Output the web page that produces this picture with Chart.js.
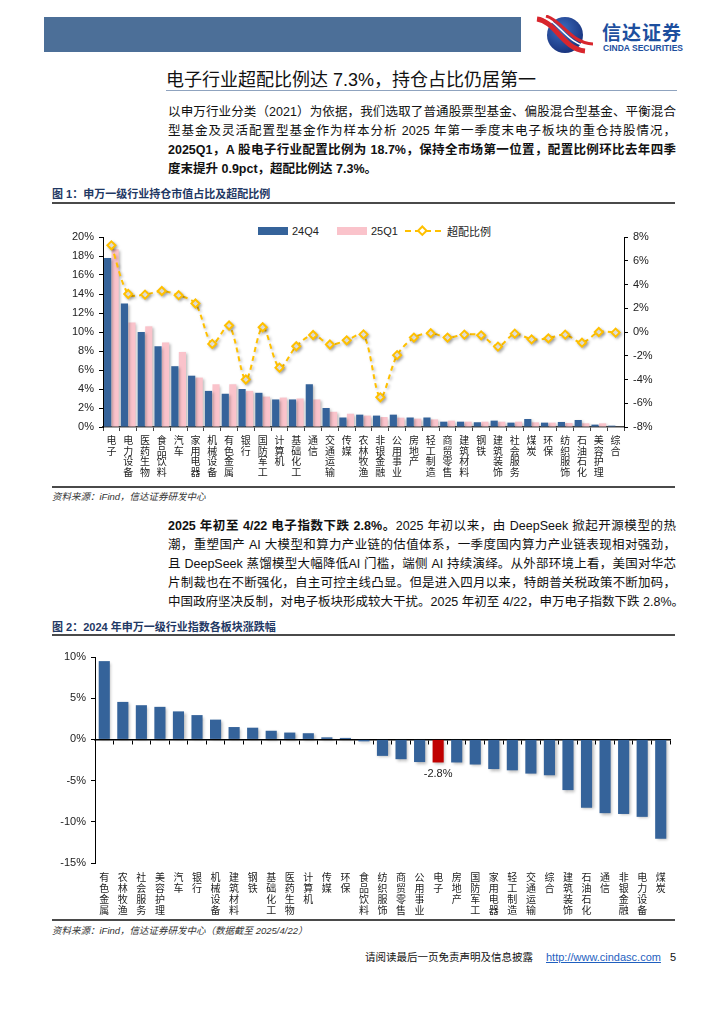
<!DOCTYPE html>
<html>
<head>
<meta charset="utf-8">
<script src="https://cdn.jsdelivr.net/npm/chart.js@4.4.1/dist/chart.umd.min.js"></script>
<style>
body { margin: 0; background: #fff; }
#page { position: relative; width: 724px; height: 1024px; overflow: hidden;
        font-family: "Liberation Sans", "Noto Sans CJK SC", sans-serif; color: #111; }
.abs { position: absolute; white-space: nowrap; }
.line { position: absolute; left: 168px; width: 508px; font-size: 12.5px; line-height: 16px;
        text-align: justify; text-align-last: justify; white-space: nowrap; }
.rule { position: absolute; left: 52px; width: 623px; height: 2px; background: #4a4a4a; }
.cap { font-size: 11px; font-weight: bold; color: #1f3864; line-height: 14px; }
.src { font-size: 9.5px; font-style: italic; color: #333; line-height: 12px; }
.lg { font-size: 11px; line-height: 12px; color: #222; }
</style>
</head>
<body>
<div id="page">
  <!-- header -->
  <div class="abs" style="left:44px;top:17px;width:477px;height:35px;background:#4c6f98;"></div>
  <svg class="abs" style="left:533px;top:15px" width="64" height="40" viewBox="0 0 64 40">
    <defs>
      <radialGradient id="g" cx="0.4" cy="0.35" r="0.7">
        <stop offset="0" stop-color="#3d6ec0"/><stop offset="1" stop-color="#16307a"/>
      </radialGradient>
    </defs>
    <circle cx="32" cy="20" r="18" fill="url(#g)"/>
    <path d="M4 4 C 22 6, 30 34, 52 36" stroke="#d8262d" stroke-width="5" fill="none"/>
    <path d="M10 2 C 26 6, 34 30, 58 32" stroke="#fff" stroke-width="1.5" fill="none"/>
    <path d="M13 1 C 29 5, 37 28, 60 29" stroke="#d8262d" stroke-width="3" fill="none"/>
  </svg>
  <div class="abs" style="left:602px;top:21px;font-size:19px;font-weight:bold;color:#1d4f9e;letter-spacing:1px;font-family:'Noto Sans CJK SC';line-height:22px;">信达证券</div>
  <div class="abs" style="left:603px;top:43px;font-size:8.5px;font-weight:bold;color:#1d4f9e;line-height:10px;">CINDA SECURITIES</div>

  <!-- title -->
  <div class="abs" style="left:166px;top:69px;font-size:18px;line-height:22px;color:#111;">电子行业超配比例达 7.3%，持仓占比仍居第一</div>
  <div class="abs" style="left:166px;top:90px;width:511px;height:1px;background:#8fa3bf;"></div>

  <!-- paragraph 1 -->
  <div class="line" style="top:104px;">以申万行业分类（2021）为依据，我们选取了普通股票型基金、偏股混合型基金、平衡混合</div>
  <div class="line" style="top:123px;">型基金及灵活配置型基金作为样本分析 2025 年第一季度末电子板块的重仓持股情况，</div>
  <div class="line" style="top:142px;font-weight:bold;">2025Q1，A 股电子行业配置比例为 18.7%，保持全市场第一位置，配置比例环比去年四季</div>
  <div class="line" style="top:161px;font-weight:bold;text-align-last:left;">度末提升 0.9pct，超配比例达 7.3%。</div>

  <!-- figure 1 -->
  <div class="abs cap" style="left:52px;top:187px;">图 1：申万一级行业持仓市值占比及超配比例</div>
  <div class="rule" style="top:202px;"></div>

  <div class="abs" style="left:258px;top:227px;width:30px;height:8px;background:#35639a;"></div>
  <div class="abs lg" style="left:292px;top:225px;">24Q4</div>
  <div class="abs" style="left:337px;top:227px;width:30px;height:8px;background:#fac3cb;"></div>
  <div class="abs lg" style="left:371px;top:225px;">25Q1</div>
  <svg class="abs" style="left:404px;top:225px" width="40" height="12">
    <line x1="1" y1="6" x2="39" y2="6" stroke="#FFC000" stroke-width="2" stroke-dasharray="6,4"/>
    <rect x="16" y="2" width="6" height="6" transform="rotate(45 19 5) translate(0 1)" fill="#fff" stroke="#FFC000" stroke-width="2"/>
  </svg>
  <div class="abs lg" style="left:447px;top:225px;font-family:'Noto Sans CJK SC';">超配比例</div>

  <div class="abs" style="left:52px;top:215px;width:623px;height:270px;"><canvas id="c1"></canvas></div>
  <div class="rule" style="top:486px;"></div>
  <div class="abs src" style="left:52px;top:491px;">资料来源：iFind，信达证券研发中心</div>

  <!-- paragraph 2 -->
  <div class="line" style="top:518px;"><b>2025 年初至 4/22 电子指数下跌 2.8%。</b>2025 年初以来，由 DeepSeek 掀起开源模型的热</div>
  <div class="line" style="top:537px;">潮，重塑国产 AI 大模型和算力产业链的估值体系，一季度国内算力产业链表现相对强劲，</div>
  <div class="line" style="top:556px;">且 DeepSeek 蒸馏模型大幅降低AI 门槛，端侧 AI 持续演绎。从外部环境上看，美国对华芯</div>
  <div class="line" style="top:575px;">片制裁也在不断强化，自主可控主线凸显。但是进入四月以来，特朗普关税政策不断加码，</div>
  <div class="line" style="top:594px;">中国政府坚决反制，对电子板块形成较大干扰。2025 年初至 4/22，申万电子指数下跌 2.8%。</div>

  <!-- figure 2 -->
  <div class="abs cap" style="left:52px;top:620px;">图 2：2024 年申万一级行业指数各板块涨跌幅</div>
  <div class="rule" style="top:634px;"></div>
  <div class="abs" style="left:52px;top:640px;width:623px;height:278px;"><canvas id="c2"></canvas></div>
  <div class="rule" style="top:919px;"></div>
  <div class="abs src" style="left:52px;top:925px;">资料来源：iFind，信达证券研发中心（数据截至 2025/4/22）</div>

  <!-- footer -->
  <div class="abs" style="left:365px;top:950px;font-size:10.5px;line-height:14px;font-family:'Noto Sans CJK SC';">请阅读最后一页免责声明及信息披露</div>
  <div class="abs" style="left:546px;top:950px;font-size:11px;line-height:14px;color:#1f5fbf;text-decoration:underline;">http://www.cindasc.com</div>
  <div class="abs" style="left:670px;top:950px;font-size:11px;line-height:14px;">5</div>
</div>

<script>
// figure 1: holdings share by SW level-1 industry
const industries1 = ['电子', '电力设备', '医药生物', '食品饮料', '汽车', '家用电器', '机械设备', '有色金属',
    '银行', '国防军工', '计算机', '基础化工', '通信', '交通运输', '传媒', '农林牧渔', '非银金融', '公用事业',
    '房地产', '轻工制造', '商贸零售', '建筑材料', '钢铁', '建筑装饰', '社会服务', '煤炭', '环保', '纺织服饰',
    '石油石化', '美容护理', '综合'];
const share24Q4 = [17.8, 13.0, 10.0, 8.5, 6.4, 5.4, 3.8, 3.5, 4.0, 3.6, 2.9, 2.9, 4.5, 2.0, 1.0, 1.3, 1.2, 1.3,
    1.0, 1.0, 0.56, 0.56, 0.5, 0.67, 0.46, 0.84, 0.46, 0.53, 0.74, 0.25, 0.14];
const share25Q1 = [18.7, 11.0, 10.6, 8.9, 7.9, 5.2, 4.5, 4.5, 3.8, 3.2, 3.1, 3.0, 2.9, 1.6, 1.4, 1.2, 1.05, 0.98,
    0.88, 0.8, 0.67, 0.56, 0.56, 0.56, 0.56, 0.49, 0.46, 0.42, 0.39, 0.39, 0.05];
const overweight = [7.3, 3.2, 3.15, 3.45, 3.1, 2.4, -1.0, 0.55, -4.0, 0.4, -3.0, -1.2, -0.25, -1.05, -0.7, -0.2,
    -5.5, -1.95, -0.47, -0.1, -0.47, -0.22, -0.28, -1.23, -0.14, -0.62, -0.53, -0.22, -0.9, 0.0, -0.05];

// figure 2: 2024 index change by industry
const industries2 = ['有色金属', '农林牧渔', '社会服务', '美容护理', '汽车', '银行', '机械设备', '建筑材料',
    '钢铁', '基础化工', '医药生物', '计算机', '传媒', '环保', '食品饮料', '纺织服饰', '商贸零售', '公用事业',
    '电子', '房地产', '国防军工', '家用电器', '轻工制造', '交通运输', '综合', '建筑装饰', '石油石化', '通信',
    '非银金融', '电力设备', '煤炭'];
const change2024 = [9.5, 4.55, 4.15, 3.95, 3.4, 2.95, 2.4, 1.5, 1.42, 1.05, 0.83, 0.75, 0.25, 0.18, -0.24, -2.0,
    -2.4, -2.75, -2.8, -2.8, -3.05, -3.6, -3.75, -4.15, -4.35, -6.15, -8.3, -8.95, -9.05, -9.4, -12.05];
const highlight = '电子';

const CJK = '"Noto Sans CJK SC", sans-serif';
const LAT = '"Liberation Sans", Arial, sans-serif';
const BLUE = '#35639a';
const PINK = '#fac3cb';
const GOLD = '#FFC000';

// vertical (stacked) category labels
const stack = s => s.split('');

const shadow = {
    id: 'shadow',
    beforeDatasetDraw(chart) {
        const c = chart.ctx;
        c.save();
        c.shadowColor = 'rgba(0,0,0,0.28)';
        c.shadowBlur = 3;
        c.shadowOffsetX = 1.5;
        c.shadowOffsetY = 1.5;
    },
    afterDatasetDraw(chart) {
        chart.ctx.restore();
    }
};

const fixWidth = w => scale => { scale.width = w; };
const fixHeight = h => scale => { scale.height = h; };

new Chart(document.getElementById('c1'), {
    type: 'bar',
    data: {
        labels: industries1.map(stack),
        datasets: [
            {
                type: 'line',
                label: '超配比例',
                data: overweight,
                yAxisID: 'y2',
                borderColor: GOLD,
                borderWidth: 2,
                borderDash: [5, 4],
                tension: 0.3,
                pointStyle: 'rectRot',
                pointRadius: 4,
                pointBorderWidth: 2,
                pointBackgroundColor: '#fff',
                pointBorderColor: GOLD,
                order: 0
            },
            {
                label: '24Q4',
                data: share24Q4,
                backgroundColor: BLUE,
                barPercentage: 0.95,
                categoryPercentage: 0.9,
                order: 1
            },
            {
                label: '25Q1',
                data: share25Q1,
                backgroundColor: PINK,
                barPercentage: 0.95,
                categoryPercentage: 0.9,
                order: 2
            }
        ]
    },
    options: {
        responsive: true,
        maintainAspectRatio: false,
        animation: false,
        layout: { padding: { top: 22, left: 0, right: 0, bottom: 0 } },
        plugins: { legend: { display: false }, tooltip: { enabled: false } },
        scales: {
            x: {
                offset: true,
                grid: { display: true, drawOnChartArea: false, offset: true, tickLength: 4, color: '#444' },
                border: { color: '#444', width: 1.5 },
                ticks: { font: { family: CJK, size: 10, lineHeight: 1.05 }, color: '#222',
                         maxRotation: 0, autoSkip: false, padding: 4 },
                afterFit: fixHeight(58)
            },
            y: {
                position: 'left',
                min: 0, max: 20,
                grid: { drawOnChartArea: false, tickLength: 4, color: '#000' },
                border: { color: '#000' },
                ticks: { stepSize: 2, callback: v => v + '%', font: { family: LAT, size: 11 }, color: '#222', padding: 5 },
                afterFit: fixWidth(51)
            },
            y2: {
                position: 'right',
                min: -8, max: 8,
                grid: { drawOnChartArea: false, tickLength: 4, color: '#000' },
                border: { color: '#000' },
                ticks: { stepSize: 2, callback: v => v + '%', font: { family: LAT, size: 11 }, color: '#222', padding: 5 },
                afterFit: fixWidth(51)
            }
        }
    },
    plugins: [shadow]
});

const barLabel = {
    id: 'barLabel',
    afterDatasetsDraw(chart) {
        const i = industries2.indexOf(highlight);
        const bar = chart.getDatasetMeta(0).data[i];
        const c = chart.ctx;
        c.save();
        c.font = '11px ' + LAT;
        c.fillStyle = '#222';
        c.textAlign = 'center';
        c.textBaseline = 'top';
        c.fillText(change2024[i].toFixed(1) + '%', bar.x, bar.y + 6);
        c.restore();
    }
};

new Chart(document.getElementById('c2'), {
    type: 'bar',
    data: {
        labels: industries2.map(stack),
        datasets: [{
            label: '涨跌幅',
            data: change2024,
            xAxisID: 'x',
            backgroundColor: industries2.map(n => n === highlight ? '#c00000' : BLUE),
            barPercentage: 0.6,
            categoryPercentage: 1
        }]
    },
    options: {
        responsive: true,
        maintainAspectRatio: false,
        animation: false,
        layout: { padding: { top: 17, right: 5, left: 0, bottom: 0 } },
        plugins: { legend: { display: false }, tooltip: { enabled: false } },
        scales: {
            x: {
                offset: true,
                grid: { display: false },
                border: { display: false },
                ticks: { font: { family: CJK, size: 10, lineHeight: 1.1 }, color: '#222',
                         maxRotation: 0, autoSkip: false, padding: 1 },
                afterFit: fixHeight(55)
            },
            zero: {
                type: 'category',
                axis: 'x',
                position: { y: 0 },
                offset: true,
                grid: { drawOnChartArea: false, offset: true, tickLength: 4, color: '#000' },
                border: { color: '#000', width: 1.5 },
                ticks: { display: false }
            },
            y: {
                min: -15, max: 10,
                grid: { drawOnChartArea: false, tickLength: 4, color: '#000' },
                border: { color: '#000' },
                ticks: { stepSize: 5, callback: v => v + '%', font: { family: LAT, size: 11 }, color: '#222', padding: 5 },
                afterFit: fixWidth(43)
            }
        }
    },
    plugins: [shadow, barLabel]
});
</script>
</body>
</html>
